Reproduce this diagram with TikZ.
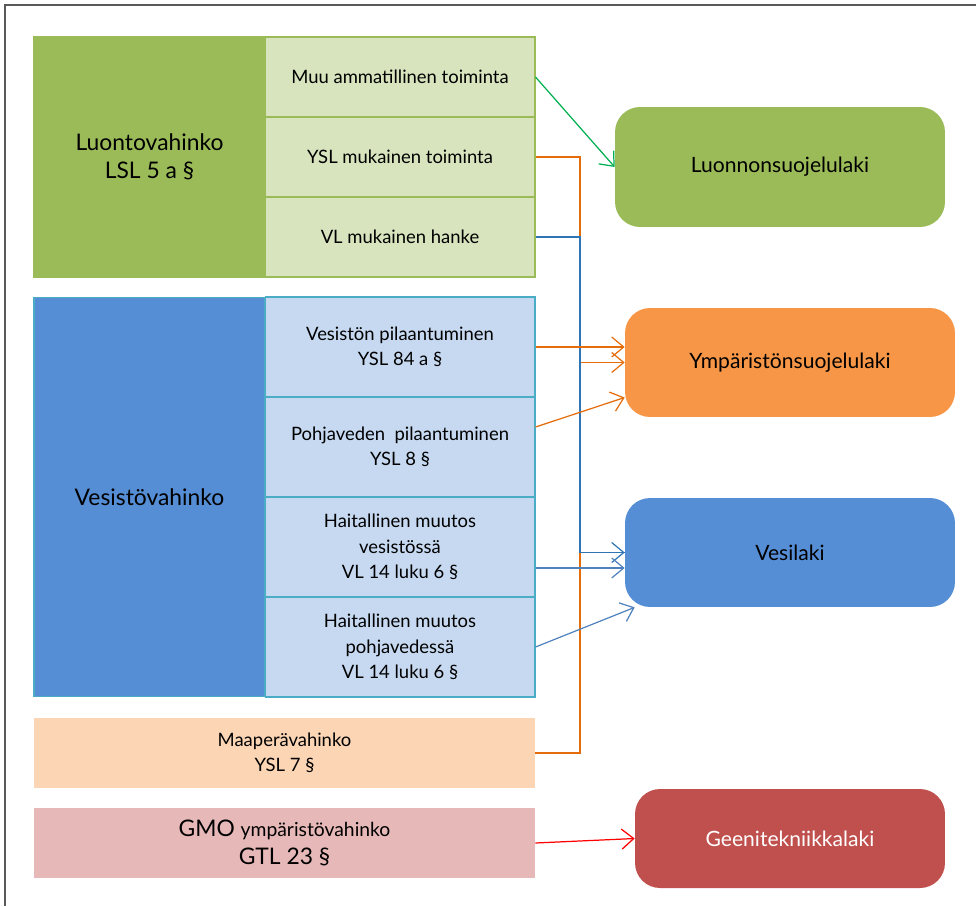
\documentclass[tikz,border=0pt]{standalone}
\usepackage{fontspec}
\setmainfont{Lato}
\usetikzlibrary{arrows.meta,positioning}

\definecolor{grdark}{HTML}{9BBB59}
\definecolor{grlight}{HTML}{D7E4BD}
\definecolor{grarrow}{HTML}{00B050}
\definecolor{bldark}{HTML}{558ED5}
\definecolor{bllight}{HTML}{C6D9F1}
\definecolor{bledge}{HTML}{4BACC6}
\definecolor{blline}{HTML}{2E75B6}
\definecolor{blline2}{HTML}{4F81BD}
\definecolor{orfill}{HTML}{F79646}
\definecolor{orline}{HTML}{E46C0A}
\definecolor{peach}{HTML}{FCD5B5}
\definecolor{rose}{HTML}{E6B9B8}
\definecolor{redfill}{HTML}{C0504D}

\begin{document}
\begin{tikzpicture}[x=0.02cm,y=-0.02cm,
				big/.style={draw,rectangle,line width=0.6pt,minimum width=4.62cm,align=center,font=\fontsize{13}{16}\selectfont},
				sub/.style={draw,rectangle,line width=0.6pt,minimum width=5.4cm,align=center,font=\fontsize{10.5}{14.5}\selectfont},
				wide/.style={rectangle,minimum width=10.02cm,minimum height=1.4cm,align=center},
				law/.style={rectangle,rounded corners=0.5cm,minimum width=6.6cm,minimum height=2.18cm,font=\fontsize{12}{14}\selectfont},
				link/.style={line width=0.7pt,-{Straight Barb[length=2.4mm,width=4mm]}}]
			\useasboundingbox (0,0) rectangle (976,906);
			\draw[gray!70!black,line width=0.6pt] (976,5) -- (5,5) -- (5,906);
			% Luontovahinko
			\node [big,fill=grdark,draw=grdark,minimum height=4.8cm] (luonto) at (149.5,157) {Luontovahinko\\LSL 5 a \S};
			\node [sub,fill=grlight,draw=grdark,minimum height=1.6cm] (muu) at (400,77) {Muu ammatillinen toiminta};
			\node [sub,fill=grlight,draw=grdark,minimum height=1.6cm] (ysltoim) at (400,157) {YSL mukainen toiminta};
			\node [sub,fill=grlight,draw=grdark,minimum height=1.6cm] (vlhanke) at (400,237) {VL mukainen hanke};
			% Vesistovahinko
			\node [big,fill=bldark,draw=bledge,minimum height=8cm] (vesisto) at (149.5,497) {Vesistövahinko};
			\node [sub,fill=bllight,draw=bledge,minimum height=2cm] (vpil) at (400,347) {Vesistön pilaantuminen\\YSL 84 a \S};
			\node [sub,fill=bllight,draw=bledge,minimum height=2cm] (ppil) at (400,447) {Pohjaveden\ \ pilaantuminen\\YSL 8 \S};
			\node [sub,fill=bllight,draw=bledge,minimum height=2cm] (hves) at (400,547) {Haitallinen muutos\\vesistössä\\VL 14 luku 6 \S};
			\node [sub,fill=bllight,draw=bledge,minimum height=2cm] (hpoh) at (400,647) {Haitallinen muutos\\pohjavedessä\\VL 14 luku 6 \S};
			% maapera ja GMO
			\node [wide,fill=peach,font=\fontsize{10.5}{14.5}\selectfont] (maa) at (284.5,753) {Maaperävahinko\\YSL 7 \S};
			\node [wide,fill=rose,font=\fontsize{13}{16}\selectfont] (gmo) at (284.5,843) {GMO {\fontsize{11}{13}\selectfont ympäristövahinko}\\GTL 23 \S};
			% lait
			\node [law,fill=grdark,minimum height=2.4cm] (lsl) at (780,167) {Luonnonsuojelulaki};
			\node [law,fill=orfill] (ysl) at (790,362.5) {Ympäristönsuojelulaki};
			\node [law,fill=bldark] (vl) at (790,552.5) {Vesilaki};
			\node [law,fill=redfill,text=white,minimum width=6.2cm,minimum height=1.98cm] (gtl) at (790,838.5) {Geenitekniikkalaki};
			% yhteydet
			\coordinate (obus) at (580,157);
			\coordinate (bbus) at (580,237);
			\draw[orline,line width=0.7pt] (ysltoim.east) -- (obus) |- (maa.east);
			\draw[link,orline] (580,362.5) -- (ysl.west);
			\draw[blline,line width=0.7pt] (vlhanke.east) -- (bbus) |- (vl.west);
			\draw[link,blline] (580,552.5) -- (vl.west);
			\draw[link,grarrow] (muu.east) -- (lsl.west);
			\draw[link,orline] (vpil.east) -- (vpil.east -| ysl.west);
			\draw[link,orline] ([yshift=0.4cm]ppil.east) -- ([yshift=-0.7cm]ysl.west);
			\draw[link,blline2] ([yshift=-0.42cm]hves.east) -- ([yshift=-0.42cm]hves.east -| vl.west);
			\draw[link,blline2] (hpoh.east) -- ([xshift=0.2cm]vl.south west);
			\draw[link,red] (gmo.east) -- (gtl.west);
		\end{tikzpicture}
\end{document}
